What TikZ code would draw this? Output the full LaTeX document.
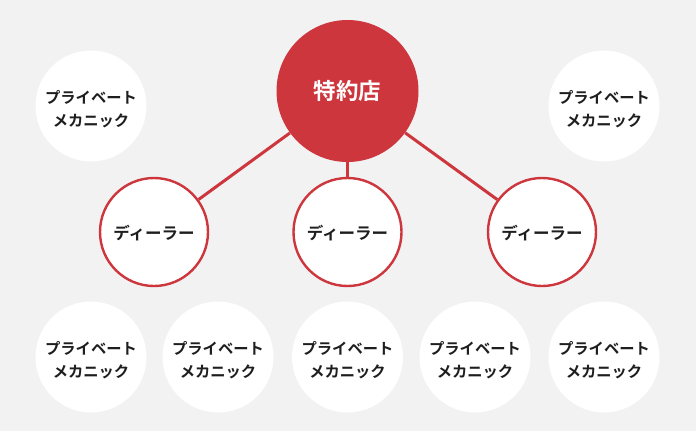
\documentclass[tikz,border=0pt]{standalone}
\usepackage{fontspec}
\newfontfamily\jp{Noto Sans CJK JP Bold}
\definecolor{bg}{RGB}{242,242,242}
\definecolor{brand}{RGB}{206,54,61}
\definecolor{ink}{RGB}{30,30,30}
\newcommand\mechtext{\raisebox{-4.5pt}[\height][\depth]{\begin{tabular}{@{}c@{}}プライベート\\[1.5pt]メカニック\end{tabular}}}
\newcommand\dealertext{\raisebox{-1.5pt}[\height][\depth]{ディーラー}}
\tikzset{
  mech/.style={circle,fill=white,minimum size=111pt,inner sep=0pt,text=ink,font=\jp\fontsize{15.3}{22}\selectfont},
  dealer/.style={circle,fill=white,draw=brand,line width=2.4pt,minimum size=108pt,inner sep=0pt,text=ink,font=\jp\fontsize{16.5}{20}\selectfont},
  hub/.style={circle,fill=brand,minimum size=142pt,inner sep=0pt,text=white,font=\jp\fontsize{22.5}{26}\selectfont},
  link/.style={draw=brand,line width=3pt}
}
\begin{document}
\begin{tikzpicture}[x=1pt,y=-1pt]
\fill[bg] (0,0) rectangle (696,431);
\useasboundingbox (0,0) rectangle (696,431);
\node[hub] (hub) at (347.5,91) {特約店};
\node[dealer] (d1) at (154,232) {\dealertext};
\node[dealer] (d2) at (347.5,232) {\dealertext};
\node[dealer] (d3) at (542,232) {\dealertext};
\draw[link] (hub) -- (d1);
\draw[link] (hub) -- (d2);
\draw[link] (hub) -- (d3);
\node[mech] (m1) at (91,106) {\mechtext};
\node[mech] (m2) at (604,106) {\mechtext};
\node[mech] (b1) at (91,357) {\mechtext};
\node[mech] (b2) at (218,357) {\mechtext};
\node[mech] (b3) at (347.5,357) {\mechtext};
\node[mech] (b4) at (475,357) {\mechtext};
\node[mech] (b5) at (604,357) {\mechtext};
\end{tikzpicture}
\end{document}
